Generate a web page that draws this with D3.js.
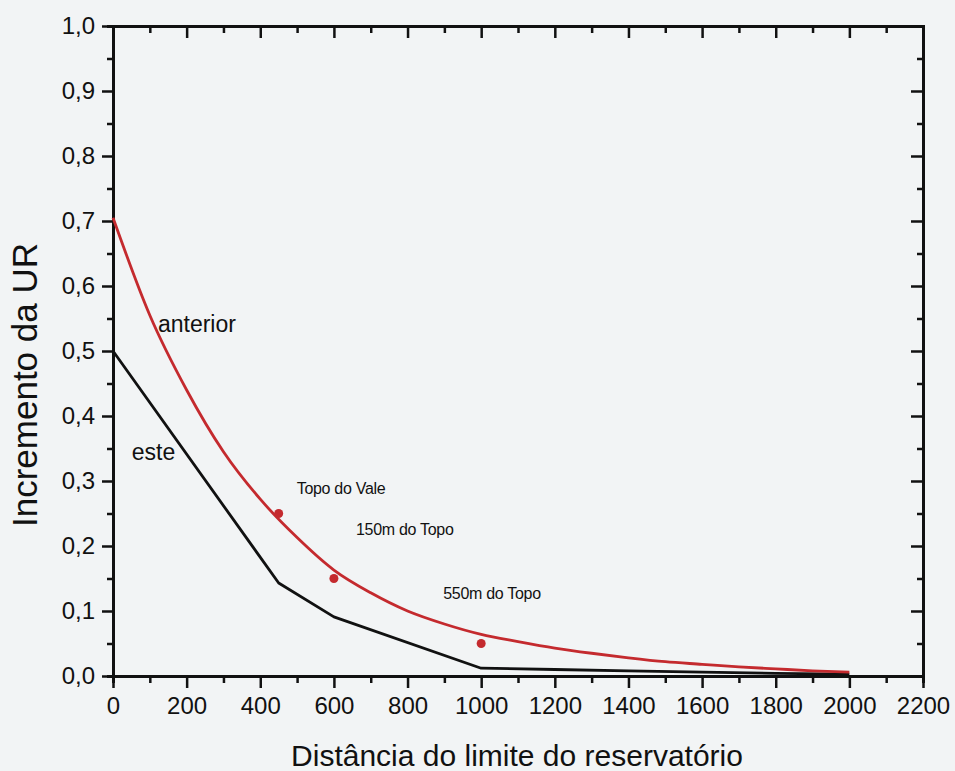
<!DOCTYPE html>
<html>
<head>
<meta charset="utf-8">
<script src="https://cdn.jsdelivr.net/npm/d3@7"></script>
<style>
  body { margin: 0; background: #f2f4f5; }
  svg { display: block; }
  svg text { font-family: Arial, "Liberation Sans", Helvetica, sans-serif; }
</style>
</head>
<body>
<svg id="chart" width="955" height="771"></svg>
<script>
// Curve "anterior" (red, smooth)
const anteriorX = [0, 100, 200, 300, 400, 500, 600, 700, 800, 900, 1000, 1100, 1200, 1300, 1400, 1500, 1600, 1700, 1800, 1900, 2000];
const anteriorY = [0.705, 0.555, 0.44, 0.345, 0.272, 0.213, 0.163, 0.128, 0.100, 0.080, 0.064, 0.053, 0.043, 0.035, 0.028, 0.022, 0.018, 0.014, 0.011, 0.008, 0.006];

// Curve "este" (black, broken line)
const esteX = [0, 450, 600, 1000, 1200, 1400, 1600, 1800, 2000];
const esteY = [0.5, 0.143, 0.091, 0.012, 0.010, 0.008, 0.006, 0.004, 0.003];

// Measured points (red dots)
const pointX = [450, 600, 1000];
const pointY = [0.25, 0.15, 0.05];

// Annotations
const noteText = ["anterior", "este", "Topo do Vale", "150m do Topo", "550m do Topo"];
const noteX = [122, 51, 499, 660, 897];
const noteY = [0.53, 0.332, 0.28, 0.217, 0.118];
const noteSize = [23, 23, 16, 16, 16];

const xTicks = d3.range(0, 2201, 200);
const yTicks = d3.range(0, 1.0001, 0.1);

const svg = d3.select("#chart");
const plotLeft = 113, plotRight = 923, plotTop = 26, plotBottom = 676;

const x = d3.scaleLinear().domain([0, 2200]).range([plotLeft, plotRight]);
const y = d3.scaleLinear().domain([0, 1]).range([plotBottom, plotTop]);

const fmt = d3.formatLocale({decimal: ",", thousands: ".", grouping: [3], currency: ["", ""]}).format(".1f");

function styleAxis(g) {
    g.attr("font-family", null);
    g.select(".domain").attr("stroke", "#111").attr("stroke-width", 3);
    g.selectAll(".tick line").attr("stroke", "#111").attr("stroke-width", 2.5);
    g.selectAll(".tick text").attr("fill", "#111");
}

// minor ticks (half steps)
const xMinor = d3.range(100, 2200, 200);
const yMinor = d3.range(0.05, 1, 0.1);

// bottom axis: ticks outward
svg.append("g").attr("transform", `translate(0,${plotBottom})`)
    .call(d3.axisBottom(x).tickValues(xMinor).tickSize(7).tickFormat(""))
    .call(styleAxis);
svg.append("g").attr("transform", `translate(0,${plotBottom})`)
    .call(d3.axisBottom(x).tickValues(xTicks).tickSize(12).tickSizeOuter(0).tickPadding(9).tickFormat(d3.format("d")))
    .call(styleAxis)
    .call(g => g.selectAll(".tick text").attr("font-size", 24));

// left axis: ticks outward
svg.append("g").attr("transform", `translate(${plotLeft},0)`)
    .call(d3.axisLeft(y).tickValues(yMinor).tickSize(6).tickFormat(""))
    .call(styleAxis);
svg.append("g").attr("transform", `translate(${plotLeft},0)`)
    .call(d3.axisLeft(y).tickValues(yTicks).tickSize(11).tickSizeOuter(0).tickPadding(7).tickFormat(fmt))
    .call(styleAxis)
    .call(g => g.selectAll(".tick text").attr("font-size", 24));

// top axis: ticks inward, no labels
svg.append("g").attr("transform", `translate(0,${plotTop})`)
    .call(d3.axisBottom(x).tickValues(xMinor).tickSize(7).tickFormat(""))
    .call(styleAxis);
svg.append("g").attr("transform", `translate(0,${plotTop})`)
    .call(d3.axisBottom(x).tickValues(xTicks).tickSize(12).tickSizeOuter(0).tickFormat(""))
    .call(styleAxis);

// right axis: ticks inward, no labels
svg.append("g").attr("transform", `translate(${plotRight},0)`)
    .call(d3.axisLeft(y).tickValues(yMinor).tickSize(6).tickFormat(""))
    .call(styleAxis);
svg.append("g").attr("transform", `translate(${plotRight},0)`)
    .call(d3.axisLeft(y).tickValues(yTicks).tickSize(12).tickSizeOuter(0).tickFormat(""))
    .call(styleAxis);

// lines
const este = esteX.map((d, i) => [d, esteY[i]]);
const anterior = anteriorX.map((d, i) => [d, anteriorY[i]]);

svg.append("path")
    .datum(este)
    .attr("fill", "none")
    .attr("stroke", "#111")
    .attr("stroke-width", 2.8)
    .attr("stroke-linejoin", "round")
    .attr("d", d3.line().x(d => x(d[0])).y(d => y(d[1])));

svg.append("path")
    .datum(anterior)
    .attr("fill", "none")
    .attr("stroke", "#c42a2e")
    .attr("stroke-width", 2.8)
    .attr("d", d3.line().curve(d3.curveMonotoneX).x(d => x(d[0])).y(d => y(d[1])));

// measured points
svg.selectAll("circle.pt")
    .data(pointX)
    .enter()
    .append("circle")
    .attr("class", "pt")
    .attr("cx", d => x(d))
    .attr("cy", (d, i) => y(pointY[i]))
    .attr("r", 4.5)
    .attr("fill", "#c42a2e");

// annotations
svg.selectAll("text.note")
    .data(noteText)
    .enter()
    .append("text")
    .attr("class", "note")
    .attr("x", (d, i) => x(noteX[i]))
    .attr("y", (d, i) => y(noteY[i]))
    .attr("font-size", (d, i) => noteSize[i])
    .attr("letter-spacing", (d, i) => noteSize[i] < 20 ? -0.3 : 0)
    .attr("fill", "#111")
    .text(d => d);

// axis titles
svg.append("text")
    .attr("x", (plotLeft + plotRight) / 2 - 1)
    .attr("y", 766)
    .attr("text-anchor", "middle")
    .attr("font-size", 30)
    .attr("fill", "#111")
    .text("Distância do limite do reservatório");

svg.append("text")
    .attr("transform", "translate(37,385) rotate(-90)")
    .attr("text-anchor", "middle")
    .attr("font-size", 35)
    .attr("fill", "#111")
    .text("Incremento da UR");
</script>
</body>
</html>
